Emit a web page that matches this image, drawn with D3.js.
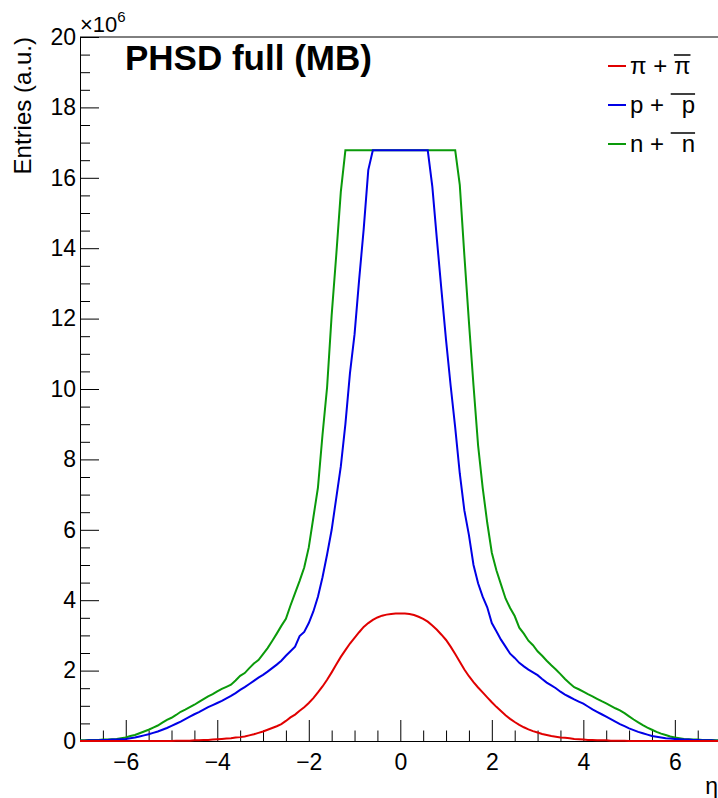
<!DOCTYPE html>
<html>
<head>
<meta charset="utf-8">
<script src="https://cdn.jsdelivr.net/npm/d3@7"></script>
<style>
body { margin: 0; background: #fff; }
svg { display: block; font-family: "Liberation Sans", Arial, Helvetica, sans-serif; }
</style>
</head>
<body>
<svg id="chart" width="718" height="798"></svg>
<script>
// eta grid: first point at etaMin, one value every etaStep (141 points, -7 .. 7)
var etaMin = -7, etaStep = 0.1;

// entries in units of 1e6
var pion = [0,
	0,0,0,0,0,0,0,0,0,0,
	0,0,0,0,0,0,0,0,0,0,
	0.01,0.01,0.01,0.01,0.02,0.02,0.03,0.03,0.04,0.05,
	0.06,0.07,0.08,0.10,0.11,0.13,0.16,0.19,0.23,0.27,
	0.32,0.37,0.42,0.48,0.57,0.67,0.75,0.86,0.96,1.08,
	1.22,1.38,1.55,1.74,1.95,2.17,2.39,2.58,2.77,2.93,
	3.09,3.24,3.35,3.44,3.51,3.56,3.59,3.61,3.62,3.62,
	3.62,3.61,3.58,3.53,3.47,3.39,3.28,3.16,3.02,2.87,
	2.68,2.47,2.25,2.03,1.84,1.67,1.52,1.38,1.24,1.10,
	0.97,0.85,0.73,0.63,0.54,0.46,0.39,0.33,0.28,0.24,
	0.20,0.17,0.14,0.12,0.10,0.09,0.08,0.06,0.05,0.04,
	0.03,0.03,0.02,0.02,0.02,0.01,0.01,0.01,0.01,0,
	0,0,0,0,0,0,0,0,0,0,
	0,0,0,0,0,0,0,0,0,0];

var proton = [0.01,
	0.01,0.02,0.02,0.02,0.03,0.03,0.04,0.04,0.05,0.06,
	0.08,0.10,0.13,0.16,0.19,0.23,0.27,0.32,0.37,0.43,
	0.49,0.55,0.62,0.69,0.76,0.82,0.89,0.96,1.02,1.08,
	1.14,1.21,1.28,1.36,1.45,1.53,1.62,1.71,1.80,1.88,
	1.97,2.07,2.17,2.28,2.42,2.55,2.68,2.98,3.10,3.35,
	3.68,4.10,4.65,5.30,6.00,6.90,7.80,9.00,10.45,11.55,
	13.10,14.54,16.22,16.78,16.78,16.78,16.78,16.78,16.78,16.78,
	16.78,16.78,16.78,16.78,16.78,16.78,15.75,14.25,12.80,11.39,
	10.10,8.90,7.60,6.55,5.85,5.00,4.48,4.10,3.80,3.35,
	3.12,2.88,2.68,2.48,2.36,2.22,2.12,2.03,1.95,1.87,
	1.76,1.66,1.58,1.50,1.40,1.32,1.25,1.18,1.12,1.06,
	0.98,0.90,0.83,0.76,0.69,0.62,0.55,0.48,0.42,0.36,
	0.31,0.26,0.22,0.18,0.14,0.12,0.10,0.08,0.07,0.06,
	0.05,0.04,0.04,0.03,0.03,0.02,0.02,0.02,0.01,0.01];

var neutron = [0.02,
	0.02,0.03,0.03,0.03,0.04,0.04,0.05,0.06,0.08,0.10,
	0.14,0.17,0.22,0.27,0.32,0.38,0.44,0.52,0.60,0.66,
	0.74,0.83,0.89,0.96,1.03,1.11,1.19,1.27,1.33,1.41,
	1.48,1.54,1.60,1.72,1.85,1.93,2.07,2.20,2.30,2.47,
	2.64,2.84,3.05,3.27,3.47,3.85,4.20,4.55,4.93,5.50,
	6.35,7.20,8.70,10.05,12.10,13.80,15.60,16.78,16.78,16.78,
	16.78,16.78,16.78,16.78,16.78,16.78,16.78,16.78,16.78,16.78,
	16.78,16.78,16.78,16.78,16.78,16.78,16.78,16.78,16.78,16.78,
	16.78,16.78,15.80,13.80,11.90,10.10,8.40,7.20,6.20,5.35,
	4.85,4.45,4.05,3.78,3.55,3.22,3.05,2.85,2.72,2.55,
	2.42,2.28,2.15,2.03,1.90,1.76,1.64,1.53,1.47,1.40,
	1.33,1.27,1.20,1.13,1.07,1.00,0.93,0.87,0.79,0.70,
	0.61,0.53,0.45,0.38,0.32,0.26,0.21,0.17,0.13,0.10,
	0.08,0.06,0.05,0.04,0.04,0.03,0.03,0.03,0.02,0.02];

var xMajor = [-6, -4, -2, 0, 2, 4, 6];
var yMajor = [0, 2, 4, 6, 8, 10, 12, 14, 16, 18, 20];
var legendParticles = ["\u03c0", "p", "n"];
var legendColors = ["#e00000", "#0000e6", "#0a9a0a"];

var svg = d3.select("#chart");

var x = d3.scaleLinear().domain([-7, 7]).range([80, 720.6]);
var y = d3.scaleLinear().domain([0, 20]).range([741, 37]);

// minor ticks every 0.5
var xMinor = d3.range(-7, 7.01, 0.5).filter(function(d) { return xMajor.indexOf(d) < 0; });
var yMinor = d3.range(0, 20.01, 0.5).filter(function(d) { return yMajor.indexOf(d) < 0; });

// x axis
var xAxisG = svg.append("g").attr("transform", "translate(0,741)");
xAxisG.call(d3.axisBottom(x).tickValues(xMinor).tickSize(-10.5).tickSizeOuter(0).tickFormat(""));
xAxisG.append("g").call(d3.axisBottom(x).tickValues(xMajor).tickSize(-21).tickSizeOuter(0).tickPadding(13));

// y axis
var yAxisG = svg.append("g").attr("transform", "translate(80,0)");
yAxisG.call(d3.axisLeft(y).tickValues(yMinor).tickSize(-10).tickSizeOuter(0).tickFormat(""));
yAxisG.append("g").call(d3.axisLeft(y).tickValues(yMajor).tickSize(-19).tickSizeOuter(0).tickPadding(4));

svg.selectAll(".tick text").style("font-size", "23px").attr("fill", "#000").style("font-family", "Liberation Sans, Arial, sans-serif");
svg.selectAll(".domain, .tick line").attr("stroke", "#000");

// top frame
svg.append("line")
	.attr("x1", x(-7)).attr("x2", x(7))
	.attr("y1", y(20)).attr("y2", y(20))
	.attr("stroke", "#000");

// curves
var line = d3.line()
	.x(function(d, i) { return x(etaMin + i * etaStep); })
	.y(function(d) { return y(d); });

[neutron, proton, pion].forEach(function(s, k) {
	svg.append("path")
		.datum(s)
		.attr("d", line)
		.attr("fill", "none")
		.attr("stroke", [legendColors[2], legendColors[1], legendColors[0]][k])
		.attr("stroke-width", 2)
		.attr("stroke-linejoin", "miter");
});

// title
svg.append("text")
	.attr("x", 125).attr("y", 70)
	.style("font-size", "35px").style("font-weight", "bold")
	.text("PHSD full (MB)");

// exponent
var expo = svg.append("text").attr("x", 80).attr("y", 32).style("font-size", "22px");
expo.append("tspan").text("\u00d710");
expo.append("tspan").attr("dy", -10).style("font-size", "15px").text("6");

// axis titles
svg.append("text")
	.attr("transform", "translate(31,37) rotate(-90)")
	.attr("text-anchor", "end")
	.style("font-size", "24px")
	.text("Entries (a.u.)");

svg.append("text")
	.attr("x", 718).attr("y", 794)
	.attr("text-anchor", "end")
	.style("font-size", "23px")
	.text("\u03b7");

// legend
var legendY = [66, 105, 144];
legendParticles.forEach(function(p, i) {
	var ly = legendY[i];
	svg.append("line")
		.attr("x1", 608).attr("x2", 626)
		.attr("y1", ly).attr("y2", ly)
		.attr("stroke", legendColors[i]).attr("stroke-width", 2);
	var gap = i == 0 ? 0 : 11;
	var t = svg.append("text")
		.attr("x", 630).attr("y", ly + 8)
		.style("font-size", "24px");
	t.append("tspan").text(p + " + ");
	t.append("tspan").attr("dx", gap).text(p);
	var n = t.node();
	var last = n.getNumberOfChars() - 1;
	var x0 = n.getStartPositionOfChar(last).x - gap;
	var x1 = n.getEndPositionOfChar(last).x;
	svg.append("line")
		.attr("x1", x0).attr("x2", x1)
		.attr("y1", ly + 8 - 19).attr("y2", ly + 8 - 19)
		.attr("stroke", "#000").attr("stroke-width", 1.5);
});
</script>
</body>
</html>
